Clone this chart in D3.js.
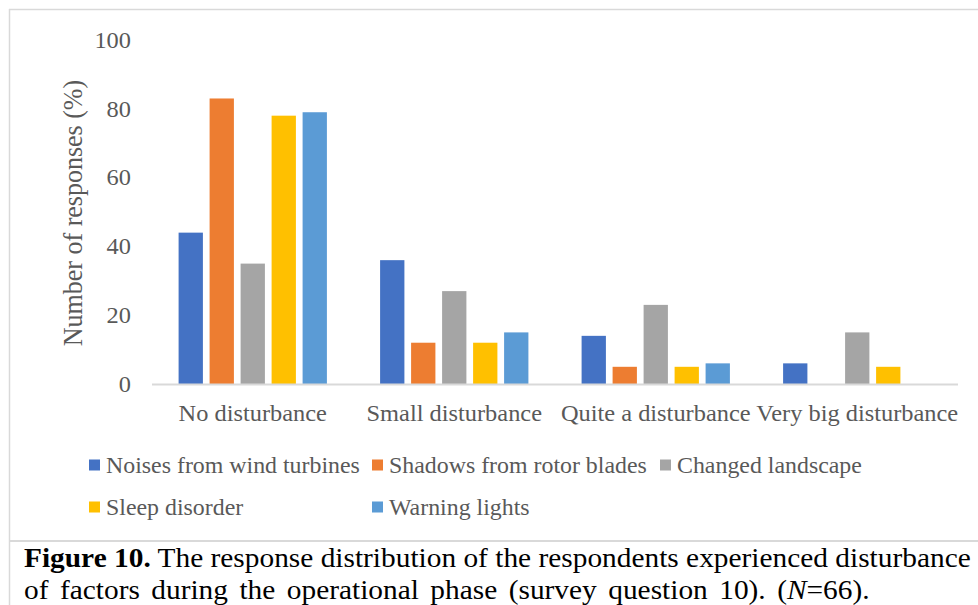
<!DOCTYPE html>
<html>
<head>
<meta charset="utf-8">
<script src="https://cdn.jsdelivr.net/npm/d3@7"></script>
<style>
  html, body { margin: 0; padding: 0; background: #fff; }
  svg { display: block; }
</style>
</head>
<body>
<svg id="chart" width="978" height="605"></svg>
<script>
// Survey question 10: disturbance experienced during the operational phase (N = 66)
const categories = ["No disturbance", "Small disturbance", "Quite a disturbance", "Very big disturbance"];
const seriesNames = ["Noises from wind turbines", "Shadows from rotor blades", "Changed landscape", "Sleep disorder", "Warning lights"];
const noisesFromWindTurbines = [44, 36, 14, 6];
const shadowsFromRotorBlades = [83, 12, 5, 0];
const changedLandscape = [35, 27, 23, 15];
const sleepDisorder = [78, 12, 5, 5];
const warningLights = [79, 15, 6, 0];
const yTickValues = [0, 20, 40, 60, 80, 100];
const seriesColors = ["#4472C4", "#ED7D31", "#A5A5A5", "#FFC000", "#5B9BD5"];
const yAxisTitle = "Number of responses (%)";

const seriesValues = [noisesFromWindTurbines, shadowsFromRotorBlades, changedLandscape, sleepDisorder, warningLights];

// pick the first Times-like face that is installed; DejaVu Serif is the fallback
const ctx = document.createElement("canvas").getContext("2d");
function widthIn(font) { ctx.font = font; return ctx.measureText("Number of responses 0123 (%) Wgmi").width; }
const candidates = ["Liberation Serif", "Times New Roman", "Tinos", "Nimbus Roman", "FreeSerif"];
const mono = widthIn("20px monospace");
let FONT = '"DejaVu Serif", serif';
let SIZE = 0.9;            // DejaVu Serif has taller capitals than Times, so set it smaller
for (const f of candidates) {
  const a = widthIn(`20px "${f}", monospace`), b = widthIn(`20px "${f}", sans-serif`);
  if (Math.abs(a - b) < 0.01 && Math.abs(a - mono) > 0.01) { FONT = `"${f}", serif`; SIZE = 1; break; }
}

const svg = d3.select("#chart");
const W = 978, H = 605;
const textGrey = "#595959";
const frameGrey = "#D9D9D9";
const fsAxis = 23 * SIZE, fsLegend = 22.5 * SIZE, fsTitle = 26 * SIZE, fsCaption = 26.5 * SIZE;

// horizontal glyph stretch, from the legend's longest entry
ctx.font = `${fsLegend}px ${FONT}`;
const SX = 254 / ctx.measureText("Noises from wind turbines").width;

// frame around chart and caption
svg.append("line").attr("x1", 9).attr("x2", W).attr("y1", 9.5).attr("y2", 9.5)
  .attr("stroke", frameGrey).attr("stroke-width", 1.5);
svg.append("line").attr("x1", 9.5).attr("x2", 9.5).attr("y1", 9).attr("y2", H)
  .attr("stroke", frameGrey).attr("stroke-width", 1.5);
svg.append("line").attr("x1", 9).attr("x2", W).attr("y1", 541).attr("y2", 541)
  .attr("stroke", frameGrey).attr("stroke-width", 2);

// scales
const plotLeft = 152, plotRight = 958, plotBottom = 384, plotTop = 40;
const x0 = d3.scaleBand().domain(categories).range([plotLeft, plotRight])
  .paddingInner(0.264).paddingOuter(0.132);
const x1 = d3.scaleBand().domain(seriesNames).range([0, x0.bandwidth()])
  .paddingInner(0.216).paddingOuter(0);
const y = d3.scaleLinear().domain([0, 100]).range([plotBottom, plotTop]);

// bars
const groups = svg.append("g").selectAll("g")
  .data(categories)
  .join("g")
  .attr("transform", d => `translate(${x0(d)},0)`);

groups.selectAll("rect")
  .data((c, ci) => seriesNames.map((s, si) => ({ series: s, idx: si, value: seriesValues[si][ci] })))
  .join("rect")
  .filter(d => d.value > 0)
  .attr("x", d => x1(d.series))
  .attr("width", x1.bandwidth())
  .attr("y", d => y(d.value))
  .attr("height", d => y(0) - y(d.value))
  .attr("fill", d => seriesColors[d.idx]);

// y axis (labels only)
const yAxis = d3.axisLeft(y).tickValues(yTickValues).tickSize(0).tickPadding(21 / SX).tickFormat(d3.format("d"));
const gy = svg.append("g").attr("transform", `translate(${plotLeft},0)`).call(yAxis);
gy.select(".domain").remove();
gy.attr("font-family", FONT).attr("font-size", fsAxis);
gy.selectAll("text")
  .attr("fill", textGrey)
  .attr("transform", `scale(${SX},1)`);

// x axis
const xAxis = d3.axisBottom(x0).tickSize(0).tickPadding(21);
const gx = svg.append("g").attr("transform", `translate(0,${plotBottom})`).call(xAxis);
gx.select(".domain").remove();
gx.attr("font-family", FONT).attr("font-size", fsAxis);
gx.selectAll("text")
  .attr("fill", textGrey)
  .attr("transform", `scale(${SX},1)`);

svg.append("line")
  .attr("x1", plotLeft).attr("x2", plotRight)
  .attr("y1", y(0) + 0.5).attr("y2", y(0) + 0.5)
  .attr("stroke", frameGrey).attr("stroke-width", 2);

// y axis title
svg.append("text")
  .attr("transform", `translate(82,${(78 + 348) / 2}) scale(${SX},1) rotate(-90)`)
  .attr("text-anchor", "middle")
  .attr("font-family", FONT)
  .attr("font-size", fsTitle)
  .attr("fill", textGrey)
  .text(yAxisTitle);

// legend: three columns, two rows
const legendCols = [89, 372, 660];
const legendRows = [465, 507];
const legend = svg.append("g").selectAll("g")
  .data(seriesNames)
  .join("g")
  .attr("transform", (d, i) => `translate(${legendCols[i % 3]},${legendRows[Math.floor(i / 3)]})`);
legend.append("rect")
  .attr("x", 0).attr("y", -5.5).attr("width", 11).attr("height", 11)
  .attr("fill", (d, i) => seriesColors[i]);
legend.append("text")
  .attr("transform", `translate(17,0) scale(${SX},1)`)
  .attr("dy", "0.35em")
  .attr("font-family", FONT)
  .attr("font-size", fsLegend)
  .attr("fill", textGrey)
  .text(d => d);

// caption
const cap1 = svg.append("text")
  .attr("font-family", FONT)
  .attr("font-size", fsCaption)
  .attr("fill", "#000");
cap1.append("tspan").attr("font-weight", "bold").text("Figure 10.");
cap1.append("tspan").text(" The response distribution of the respondents experienced disturbance");

const cap2 = svg.append("text")
  .attr("font-family", FONT)
  .attr("font-size", fsCaption)
  .attr("fill", "#000");
cap2.append("tspan").text("of factors during the operational phase (survey question 10). (");
cap2.append("tspan").attr("font-style", "italic").text("N");
cap2.append("tspan").text("=66).");

// first line fills the column; second line keeps the same glyph scale
const capSX = 947 / cap1.node().getComputedTextLength();
const line2Natural = cap2.node().getComputedTextLength();
cap2.attr("word-spacing", Math.max(0, (850 / capSX - line2Natural) / 10));
cap1.attr("transform", `translate(24,567) scale(${capSX},1)`);
cap2.attr("transform", `translate(24,599) scale(${capSX},1)`);
</script>
</body>
</html>
